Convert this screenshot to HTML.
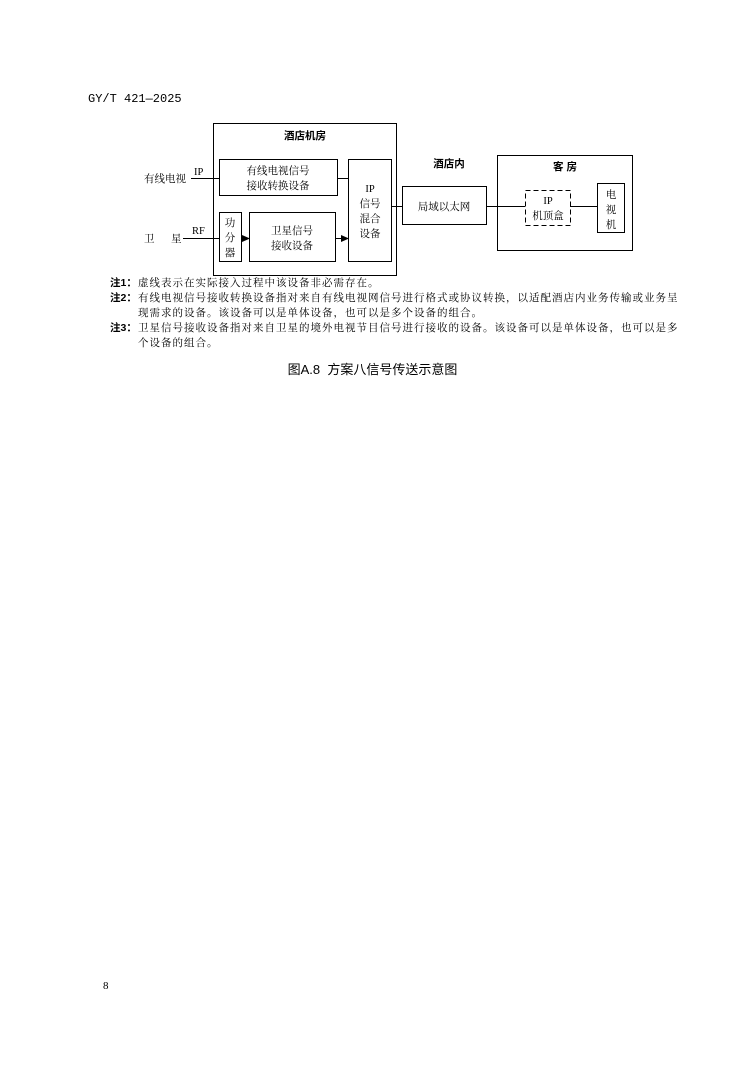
<!DOCTYPE html>
<html><head><meta charset="utf-8"><style>
body{margin:0;background:#fff;}
.p{position:relative;width:745px;height:1065px;font-family:"Liberation Serif","Noto Serif CJK SC",serif;color:#000;}
.a{position:absolute;white-space:nowrap;}
.n{font-size:10.5px;line-height:15px;font-family:"Liberation Serif","Noto Serif CJK SC",serif;letter-spacing:1px;}
.h{font-size:10.5px;line-height:15px;font-family:"Liberation Sans","Noto Sans CJK SC",sans-serif;font-weight:bold;}
</style></head><body><div class="p">
<div class="a" style="left:88px;top:92px;font-size:12px;font-family:'Liberation Mono','Noto Sans CJK SC',monospace;">GY/T 421—2025</div>
<svg class="a" style="left:0;top:0" width="745" height="280" font-family="'Liberation Serif','Noto Serif CJK SC',serif" font-size="10.5">
<defs><marker id="ar" markerWidth="8" markerHeight="8" refX="7" refY="4" orient="auto" markerUnits="userSpaceOnUse"><path d="M0,0.5 L8,4 L0,7.5 z" fill="#000"/></marker></defs>
<g fill="none" stroke="#000" stroke-width="1">
<rect x="213.5" y="123.5" width="183" height="152"/>
<rect x="219.5" y="159.5" width="118" height="36"/>
<rect x="219.5" y="212.5" width="22" height="49"/>
<rect x="249.5" y="212.5" width="86" height="49"/>
<rect x="348.5" y="159.5" width="43" height="102"/>
<rect x="402.5" y="186.5" width="84" height="38"/>
<rect x="497.5" y="155.5" width="135" height="95"/>
<rect x="525.5" y="190.5" width="45" height="35" stroke-dasharray="5,3"/>
<rect x="597.5" y="183.5" width="27" height="49"/>
<path d="M191,178.5 H219 M337,178.5 H348 M183,238.5 H219 M391,206.5 H402 M486,206.5 H525 M570,206.5 H597"/>
<path d="M241,238.5 H249" marker-end="url(#ar)"/>
<path d="M335,238.5 H348" marker-end="url(#ar)"/>
</g>
<g text-anchor="middle" font-family="'Liberation Sans','Noto Sans CJK SC',sans-serif" font-weight="bold" font-size="10.5">
<text x="305" y="139">酒店机房</text><text x="449" y="167">酒店内</text><text x="565" y="170">客 房</text>
</g>
<g text-anchor="middle">
<text x="278" y="174">有线电视信号</text><text x="278" y="189">接收转换设备</text>
<text x="230" y="226">功</text><text x="230" y="241">分</text><text x="230" y="256">器</text>
<text x="292" y="234">卫星信号</text><text x="292" y="249">接收设备</text>
<text x="370" y="192">IP</text><text x="370" y="207">信号</text><text x="370" y="222">混合</text><text x="370" y="237">设备</text>
<text x="444" y="210">局域以太网</text>
<text x="548" y="204">IP</text><text x="548" y="219">机顶盒</text>
<text x="611" y="198">电</text><text x="611" y="213">视</text><text x="611" y="228">机</text>
</g>
<text x="144" y="182">有线电视</text><text x="194" y="175">IP</text>
<text x="144" y="242">卫</text><text x="171" y="242">星</text><text x="192" y="234">RF</text>
</svg>
<div class="a h" style="left:110px;top:276px;">注1：</div>
<div class="a n" style="left:138px;top:276px;">虚线表示在实际接入过程中该设备非必需存在。</div>
<div class="a h" style="left:110px;top:291px;">注2：</div>
<div class="a n" style="left:138px;top:291px;">有线电视信号接收转换设备指对来自有线电视网信号进行格式或协议转换，以适配酒店内业务传输或业务呈</div>
<div class="a n" style="left:138px;top:306px;">现需求的设备。该设备可以是单体设备，也可以是多个设备的组合。</div>
<div class="a h" style="left:110px;top:321px;">注3：</div>
<div class="a n" style="left:138px;top:321px;">卫星信号接收设备指对来自卫星的境外电视节目信号进行接收的设备。该设备可以是单体设备，也可以是多</div>
<div class="a n" style="left:138px;top:336px;">个设备的组合。</div>
<div class="a" style="left:0;width:745px;text-align:center;top:359px;font-size:13px;font-family:'Liberation Sans','Noto Sans CJK SC',sans-serif;">图A.8&nbsp; 方案八信号传送示意图</div>
<div class="a" style="left:103px;top:980px;font-size:11px;">8</div>
</div></body></html>
